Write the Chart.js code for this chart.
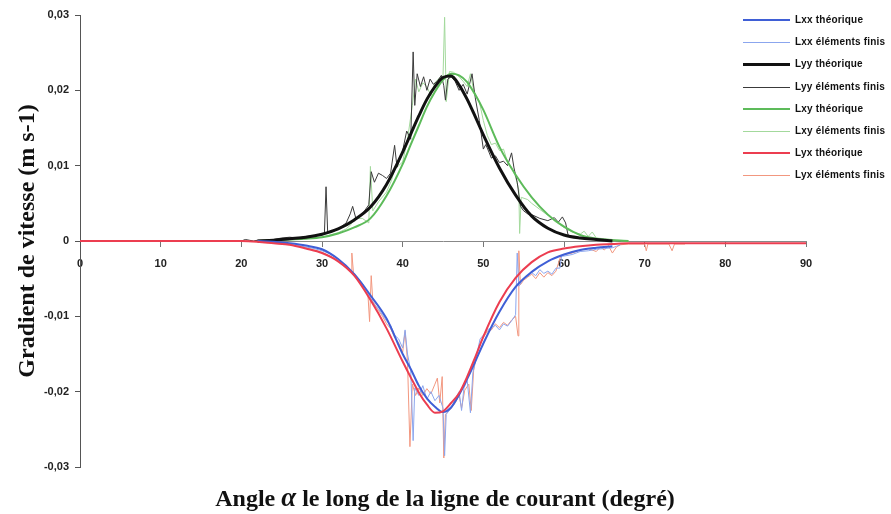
<!DOCTYPE html>
<html>
<head>
<meta charset="utf-8">
<script src="https://cdn.jsdelivr.net/npm/chart.js"></script>
<style>
  html, body { margin: 0; padding: 0; background: #fff; }
  #wrap { position: relative; width: 891px; height: 514px; }
  #legend { position: absolute; left: 743px; top: 9px; font: bold 10px "Liberation Sans", Arial, sans-serif; color: #111; letter-spacing: 0.2px; }
  .item { position: relative; height: 22.2px; }
  .item .line { position: absolute; left: 0; width: 47px; }
  .item .text { position: absolute; left: 52px; top: 5px; white-space: nowrap; }
  #xtitle { position: absolute; left: 0; width: 890px; top: 482px; text-align: center;
            font: bold 24px "Liberation Serif", "Times New Roman", serif; color: #111; }
  #xtitle i { font-size: 27px; }
</style>
</head>
<body>
<div id="wrap">
  <canvas id="gradChart" width="891" height="514"></canvas>
  <div id="legend"></div>
  <div id="xtitle">Angle <i>α</i> le long de la ligne de courant (degré)</div>
</div>
<script>
// theoretical curves, common angle grid (degrees)
const thAngle = [0, 10, 20, 22, 24, 26, 28, 30, 32, 34, 36, 38, 40, 41, 42, 43, 44, 45, 46, 47, 48, 49, 50, 52, 54, 56, 58, 60, 62, 64, 66, 68, 70, 80, 90];
const lxxTh = [null, null, null, 0, -0.0001, -0.0003, -0.0006, -0.0011, -0.0024, -0.0044, -0.0072, -0.0103, -0.0150, -0.0170, -0.0192, -0.0209, -0.0220, -0.0227, -0.0221, -0.0204, -0.0183, -0.0160, -0.0136, -0.0094, -0.0061, -0.0041, -0.0027, -0.0018, -0.0012, -0.0009, -0.0007, null, null, null, null];
const lyyTh = [null, null, null, 0, 0.0001, 0.0003, 0.0005, 0.0009, 0.0016, 0.0028, 0.0045, 0.0075, 0.0118, 0.0142, 0.0166, 0.0188, 0.0205, 0.0217, 0.0219, 0.0207, 0.0188, 0.0165, 0.0141, 0.0097, 0.0061, 0.0033, 0.0017, 0.0008, 0.0004, 0.0002, 0, null, null, null, null];
const lxyTh = [null, null, null, 0, 0.0001, 0.0002, 0.0003, 0.0005, 0.0010, 0.0018, 0.0030, 0.0060, 0.0102, 0.0128, 0.0153, 0.0178, 0.0198, 0.0214, 0.0222, 0.0220, 0.0211, 0.0194, 0.0174, 0.0125, 0.0088, 0.0058, 0.0035, 0.0019, 0.0008, 0.0003, 0.0001, 0, null, null, null];
const lyxTh = [0, 0, 0, -0.0001, -0.0003, -0.0005, -0.0010, -0.0016, -0.0027, -0.0046, -0.0078, -0.0116, -0.0160, -0.0181, -0.0201, -0.0217, -0.0228, -0.0226, -0.0215, -0.0202, -0.0180, -0.0154, -0.0127, -0.0081, -0.0049, -0.0028, -0.0015, -0.0010, -0.0007, -0.0005, -0.0004, -0.0003, -0.0003, -0.0003, -0.0003];

// finite element results
const lxxFeAngle = [22, 23, 24, 25, 26, 27, 28, 29, 30, 31, 32, 33, 34, 35, 36, 36.5, 37, 37.5, 38, 38.5, 39, 39.5, 40, 40.3, 40.6, 41, 41.3, 41.5, 42, 42.5, 43, 43.5, 44, 44.5, 45, 45.2, 45.4, 46, 46.5, 47, 47.3, 47.6, 48, 48.4, 48.7, 49.2, 49.6, 50, 50.5, 51, 51.5, 52, 52.5, 53, 53.5, 54, 54.2, 54.4, 55, 55.5, 56, 56.5, 57, 57.5, 58, 58.5, 59, 59.5, 59.7, 60, 61, 62, 63, 64, 65, 66, 66.5, 67];
const lxxFeValue = [0, -0.0001, -0.0002, -0.0003, -0.0004, -0.0006, -0.0008, -0.0010, -0.0013, -0.0017, -0.0024, -0.0033, -0.0044, -0.0056, -0.0075, -0.0085, -0.0090, -0.0098, -0.0106, -0.0112, -0.0125, -0.0130, -0.0142, -0.0118, -0.0150, -0.0172, -0.0265, -0.0195, -0.0205, -0.0192, -0.0210, -0.0200, -0.0212, -0.0205, -0.0222, -0.0285, -0.0230, -0.0222, -0.0210, -0.0200, -0.0225, -0.0195, -0.0185, -0.0228, -0.0175, -0.0150, -0.0130, -0.0125, -0.0118, -0.0115, -0.0112, -0.0118, -0.0110, -0.0113, -0.0106, -0.0098, -0.0016, -0.0060, -0.0050, -0.0047, -0.0042, -0.0046, -0.0038, -0.0043, -0.0040, -0.0044, -0.0036, -0.0036, -0.0020, -0.0020, -0.0018, -0.0014, -0.0013, -0.0011, -0.0010, -0.0009, -0.0007, -0.0005];

const lyyFeAngle = [20, 20.5, 21, 21.5, 22, 23, 24, 25, 26, 27, 28, 29, 30, 30.3, 30.5, 30.7, 31, 32, 33, 33.5, 33.8, 34.2, 35, 35.8, 36.1, 36.5, 37, 37.5, 38, 38.5, 39, 39.3, 40, 40.5, 41, 41.3, 41.5, 41.8, 42.2, 42.6, 43, 43.4, 43.8, 44.3, 44.8, 45.1, 45.3, 45.6, 46, 46.5, 47, 47.5, 48, 48.6, 49, 49.5, 50, 50.3, 50.7, 51, 51.5, 52, 52.5, 53, 53.5, 53.8, 54.2, 54.6, 55, 55.5, 56, 57, 58, 58.8, 59.3, 59.8, 60.2, 60.5, 61, 62, 63, 64, 65, 66, 67];
const lyyFeValue = [0, 0.0002, 0.0001, 0, 0.0001, 0.0001, 0.0002, 0.0004, 0.0005, 0.0004, 0.0006, 0.0007, 0.0008, 0.0010, 0.0072, 0.0012, 0.0011, 0.0016, 0.0024, 0.0036, 0.0046, 0.0030, 0.0036, 0.0048, 0.0092, 0.0078, 0.0090, 0.0087, 0.0083, 0.0090, 0.0127, 0.0098, 0.0120, 0.0146, 0.0135, 0.0251, 0.0180, 0.0222, 0.0205, 0.0218, 0.0200, 0.0215, 0.0208, 0.0212, 0.0220, 0.0206, 0.0187, 0.0215, 0.0218, 0.0212, 0.0200, 0.0208, 0.0195, 0.0222, 0.0190, 0.0160, 0.0122, 0.0128, 0.0118, 0.0110, 0.0113, 0.0104, 0.0106, 0.0100, 0.0117, 0.0097, 0.0078, 0.0046, 0.0040, 0.0036, 0.0035, 0.0030, 0.0027, 0.0031, 0.0025, 0.0032, 0.0024, 0.0008, 0.0006, 0.0004, 0.0003, 0.0002, 0.0002, 0.0001, 0];

const lxyFeAngle = [22, 23, 24, 25, 26, 27, 28, 29, 30, 31, 32, 33, 33.6, 34, 35, 35.8, 36, 36.3, 37, 38, 38.6, 39, 40, 40.6, 41.2, 41.6, 42, 42.5, 43, 43.5, 44, 44.5, 45, 45.2, 45.4, 45.8, 46.3, 47, 47.5, 48, 48.4, 48.8, 49.5, 50, 50.5, 51, 51.5, 52, 52.5, 53, 53.5, 54, 54.4, 54.5, 54.7, 55.5, 56, 57, 58, 59, 60, 61, 62, 62.5, 63, 63.5, 64, 65, 66, 67, 68];
const lxyFeValue = [0, 0.0001, 0.0001, 0.0002, 0.0003, 0.0003, 0.0004, 0.0004, 0.0005, 0.0008, 0.0011, 0.0016, 0.0022, 0.0030, 0.0030, 0.0024, 0.0099, 0.0040, 0.0052, 0.0065, 0.0080, 0.0095, 0.0105, 0.0135, 0.0180, 0.0215, 0.0198, 0.0210, 0.0205, 0.0193, 0.0210, 0.0216, 0.0218, 0.0297, 0.0185, 0.0225, 0.0224, 0.0218, 0.0212, 0.0205, 0.0222, 0.0200, 0.0185, 0.0160, 0.0140, 0.0128, 0.0130, 0.0120, 0.0122, 0.0105, 0.0098, 0.0085, 0.0068, 0.0010, 0.0058, 0.0055, 0.0050, 0.0042, 0.0034, 0.0025, 0.0018, 0.0012, 0.0009, 0.0013, 0.0006, 0.0012, 0.0004, 0.0003, 0.0002, 0.0001, 0];

const lyxFeAngle = [20, 21, 22, 23, 24, 25, 26, 27, 28, 29, 30, 31, 32, 33, 33.6, 33.7, 33.9, 34.5, 35, 35.7, 35.9, 36.1, 36.3, 37, 37.5, 38, 38.5, 39, 39.5, 40, 40.3, 40.6, 40.9, 41.2, 41.6, 42, 42.5, 43, 43.5, 44, 44.3, 44.6, 44.9, 45.1, 45.3, 45.8, 46.5, 47, 47.3, 47.7, 48.2, 48.5, 48.8, 49.3, 50, 50.5, 51, 51.5, 52, 52.5, 53, 53.5, 54, 54.3, 54.4, 54.6, 55, 55.5, 56, 56.5, 57, 57.5, 58, 58.5, 59, 59.6, 60, 61, 62, 63, 64, 64.5, 65, 65.5, 66, 66.5, 67, 68, 70, 70.2, 70.4, 73, 73.4, 73.7, 75];
const lyxFeValue = [0, 0, -0.0001, -0.0002, -0.0003, -0.0004, -0.0005, -0.0007, -0.0009, -0.0012, -0.0015, -0.0020, -0.0026, -0.0036, -0.0040, -0.0016, -0.0042, -0.0050, -0.0060, -0.0072, -0.0107, -0.0046, -0.0080, -0.0092, -0.0100, -0.0110, -0.0116, -0.0128, -0.0135, -0.0148, -0.0120, -0.0160, -0.0273, -0.0190, -0.0205, -0.0195, -0.0205, -0.0196, -0.0203, -0.0190, -0.0182, -0.0215, -0.0180, -0.0288, -0.0230, -0.0225, -0.0215, -0.0205, -0.0222, -0.0198, -0.0190, -0.0225, -0.0172, -0.0145, -0.0128, -0.0120, -0.0118, -0.0110, -0.0115, -0.0108, -0.0112, -0.0105, -0.0100, -0.0126, -0.0013, -0.0058, -0.0052, -0.0048, -0.0044, -0.0050, -0.0042, -0.0048, -0.0042, -0.0046, -0.0040, -0.0020, -0.0018, -0.0016, -0.0012, -0.0010, -0.0014, -0.0008, -0.0012, -0.0006, -0.0016, -0.0008, -0.0005, -0.0004, -0.0004, -0.0013, -0.0004, -0.0004, -0.0013, -0.0004, -0.0004];

const xTicks = [0, 10, 20, 30, 40, 50, 60, 70, 80, 90];
const yTicks = [-0.03, -0.02, -0.01, 0, 0.01, 0.02, 0.03];
const yTickLabels = ['-0,03', '-0,02', '-0,01', '0', '0,01', '0,02', '0,03'];

function toPoints(xs, ys) {
    return xs.map((x, i) => ({ x: x, y: ys[i] })).filter(p => p.y !== null);
}

function theory(label, ys, color, width) {
    return {
        label: label,
        data: toPoints(thAngle, ys),
        borderColor: color,
        borderWidth: width,
        pointRadius: 0,
        cubicInterpolationMode: 'monotone',
        order: 1
    };
}

function fem(label, xs, ys, color) {
    return {
        label: label,
        data: toPoints(xs, ys),
        borderColor: color,
        borderWidth: 1,
        pointRadius: 0,
        tension: 0,
        order: 2
    };
}

const tickFont = { family: 'Liberation Sans', size: 11, weight: 'bold' };

const chart = new Chart(document.getElementById('gradChart'), {
    type: 'line',
    data: {
        datasets: [
            theory('Lxx théorique', lxxTh, '#3f5fd6', 2),
            fem('Lxx éléments finis', lxxFeAngle, lxxFeValue, '#8ba6ee'),
            theory('Lyy théorique', lyyTh, '#111111', 3),
            fem('Lyy éléments finis', lyyFeAngle, lyyFeValue, '#3a3a3a'),
            theory('Lxy théorique', lxyTh, '#5dbb5a', 2),
            fem('Lxy éléments finis', lxyFeAngle, lxyFeValue, '#a3d99c'),
            Object.assign(theory('Lyx théorique', lyxTh, '#ec3d50', 2), { order: 0 }),
            fem('Lyx éléments finis', lyxFeAngle, lyxFeValue, '#f2977f')
        ]
    },
    options: {
        responsive: false,
        animation: false,
        layout: { padding: { top: 15, right: 85, bottom: 47, left: 0 } },
        plugins: { legend: { display: false }, tooltip: { enabled: false } },
        scales: {
            x: {
                type: 'linear',
                position: { y: 0 },
                min: 0,
                max: 90,
                afterBuildTicks: s => { s.ticks = xTicks.map(v => ({ value: v })); },
                ticks: { font: tickFont, color: '#222', padding: 11, maxRotation: 0, callback: v => String(v) },
                grid: { drawOnChartArea: false, drawTicks: true, tickLength: 5, color: '#777' },
                border: { display: true, color: '#888', width: 1 }
            },
            y: {
                type: 'linear',
                min: -0.03,
                max: 0.03,
                afterBuildTicks: s => { s.ticks = yTicks.map(v => ({ value: v })); },
                afterFit: s => { s.width = 80; },
                ticks: { font: tickFont, color: '#222', padding: 6,
                         callback: (v, i) => yTickLabels[i] },
                grid: { drawOnChartArea: false, drawTicks: true, tickLength: 5, color: '#555' },
                border: { display: true, color: '#555', width: 1 },
                title: {
                    display: true,
                    text: 'Gradient de vitesse (m s-1)',
                    font: { family: 'Liberation Serif', size: 24, weight: 'bold' },
                    color: '#111',
                    padding: { top: 13, bottom: 0 }
                }
            }
        }
    }
});

// legend in the upper right, built from the datasets
const legend = document.getElementById('legend');
chart.data.datasets.forEach(ds => {
    const item = document.createElement('div');
    item.className = 'item';
    const line = document.createElement('span');
    line.className = 'line';
    line.style.borderTop = ds.borderWidth + 'px solid ' + ds.borderColor;
    line.style.top = (11 - Math.floor(ds.borderWidth / 2)) + 'px';
    const text = document.createElement('span');
    text.className = 'text';
    text.textContent = ds.label;
    item.appendChild(line);
    item.appendChild(text);
    legend.appendChild(item);
});
</script>
</body>
</html>
